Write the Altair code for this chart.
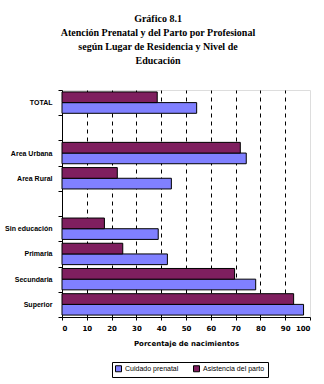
import altair as alt
import pandas as pd

categories = ["TOTAL", " ", "Area Urbana", "Area Rural", "  ",
              "Sin educación", "Primaria", "Secundaria", "Superior"]
data_cats = ["TOTAL", "Area Urbana", "Area Rural",
             "Sin educación", "Primaria", "Secundaria", "Superior"]
prenatal = [54.3, 74.3, 44.1, 38.8, 42.5, 78.1, 97.4]
parto = [38.4, 71.9, 22.3, 17.1, 24.5, 69.6, 93.4]
series = ["Cuidado prenatal", "Asistencia del parto"]
colors = ["#8080FF", "#7F1F5F"]
ticks = [0, 10, 20, 30, 40, 50, 60, 70, 80, 90, 100]
nb = "\u00a0"
title_lines = ["Gráfico 8.1",
               "Atención Prenatal y del Parto por Profesional" + nb * 8,
               "según Lugar de Residencia y Nivel de" + nb * 8,
               nb * 3 + "Educación"]

rows = []
for c, a, b in zip(data_cats, prenatal, parto):
    rows.append({"cat": c, "serie": series[0], "val": a})
    rows.append({"cat": c, "serie": series[1], "val": b})
df = pd.DataFrame(rows)

chart = alt.Chart(df).mark_bar(stroke="black", strokeWidth=1).encode(
    y=alt.Y("cat:N", sort=categories,
            scale=alt.Scale(domain=categories, paddingInner=0, paddingOuter=0),
            axis=alt.Axis(title=None, tickBand="extent", tickSize=4,
                          tickColor="black", domainColor="black",
                          labelFont="Liberation Sans", labelFontSize=7,
                          labelFontWeight="bold", labelColor="black",
                          labelPadding=6)),
    x=alt.X("val:Q", scale=alt.Scale(domain=[0, 100], nice=False),
            axis=alt.Axis(title="Porcentaje de nacimientos", values=ticks,
                          tickSize=3, tickColor="black", domainColor="black",
                          labelFont="DejaVu Sans", labelFontSize=7,
                          labelFontWeight="bold", labelColor="black",
                          labelPadding=4,
                          titleFont="DejaVu Sans", titleFontSize=7,
                          titleFontWeight="bold", titleColor="black",
                          titlePadding=8,
                          grid=True, gridColor="black", gridDash=[4, 4],
                          gridOpacity=alt.condition("datum.value == 100 || datum.value == 0",
                                                    alt.value(0), alt.value(1)))),
    yOffset=alt.YOffset("serie:N",
                        scale=alt.Scale(domain=[series[1], series[0]],
                                        paddingInner=0, paddingOuter=0.18)),
    color=alt.Color("serie:N",
                    scale=alt.Scale(domain=series, range=colors),
                    legend=alt.Legend(title=None, orient="none",
                                      legendX=50, legendY=272,
                                      direction="horizontal",
                                      strokeColor="black", padding=3,
                                      symbolType="square", symbolSize=36,
                                      symbolStrokeColor="black",
                                      symbolStrokeWidth=1,
                                      symbolOpacity=1,
                                      labelFont="Liberation Sans",
                                      labelFontSize=7, labelColor="black",
                                      columnPadding=12, labelOffset=3)),
).properties(
    width=248, height=227,
    title=alt.TitleParams(
        text=title_lines,
        font="Liberation Serif", fontSize=10, fontWeight="bold",
        color="black", anchor="middle", dx=-28, offset=20, lineHeight=14),
    autosize=alt.AutoSizeParams(type="none"),
    padding={"left": 62, "top": 90, "right": 14, "bottom": 67},
).configure_view(stroke="#808080", strokeWidth=1).configure(background="white")

chart.save("out.html", embed_options={"renderer": "svg", "actions": False})
